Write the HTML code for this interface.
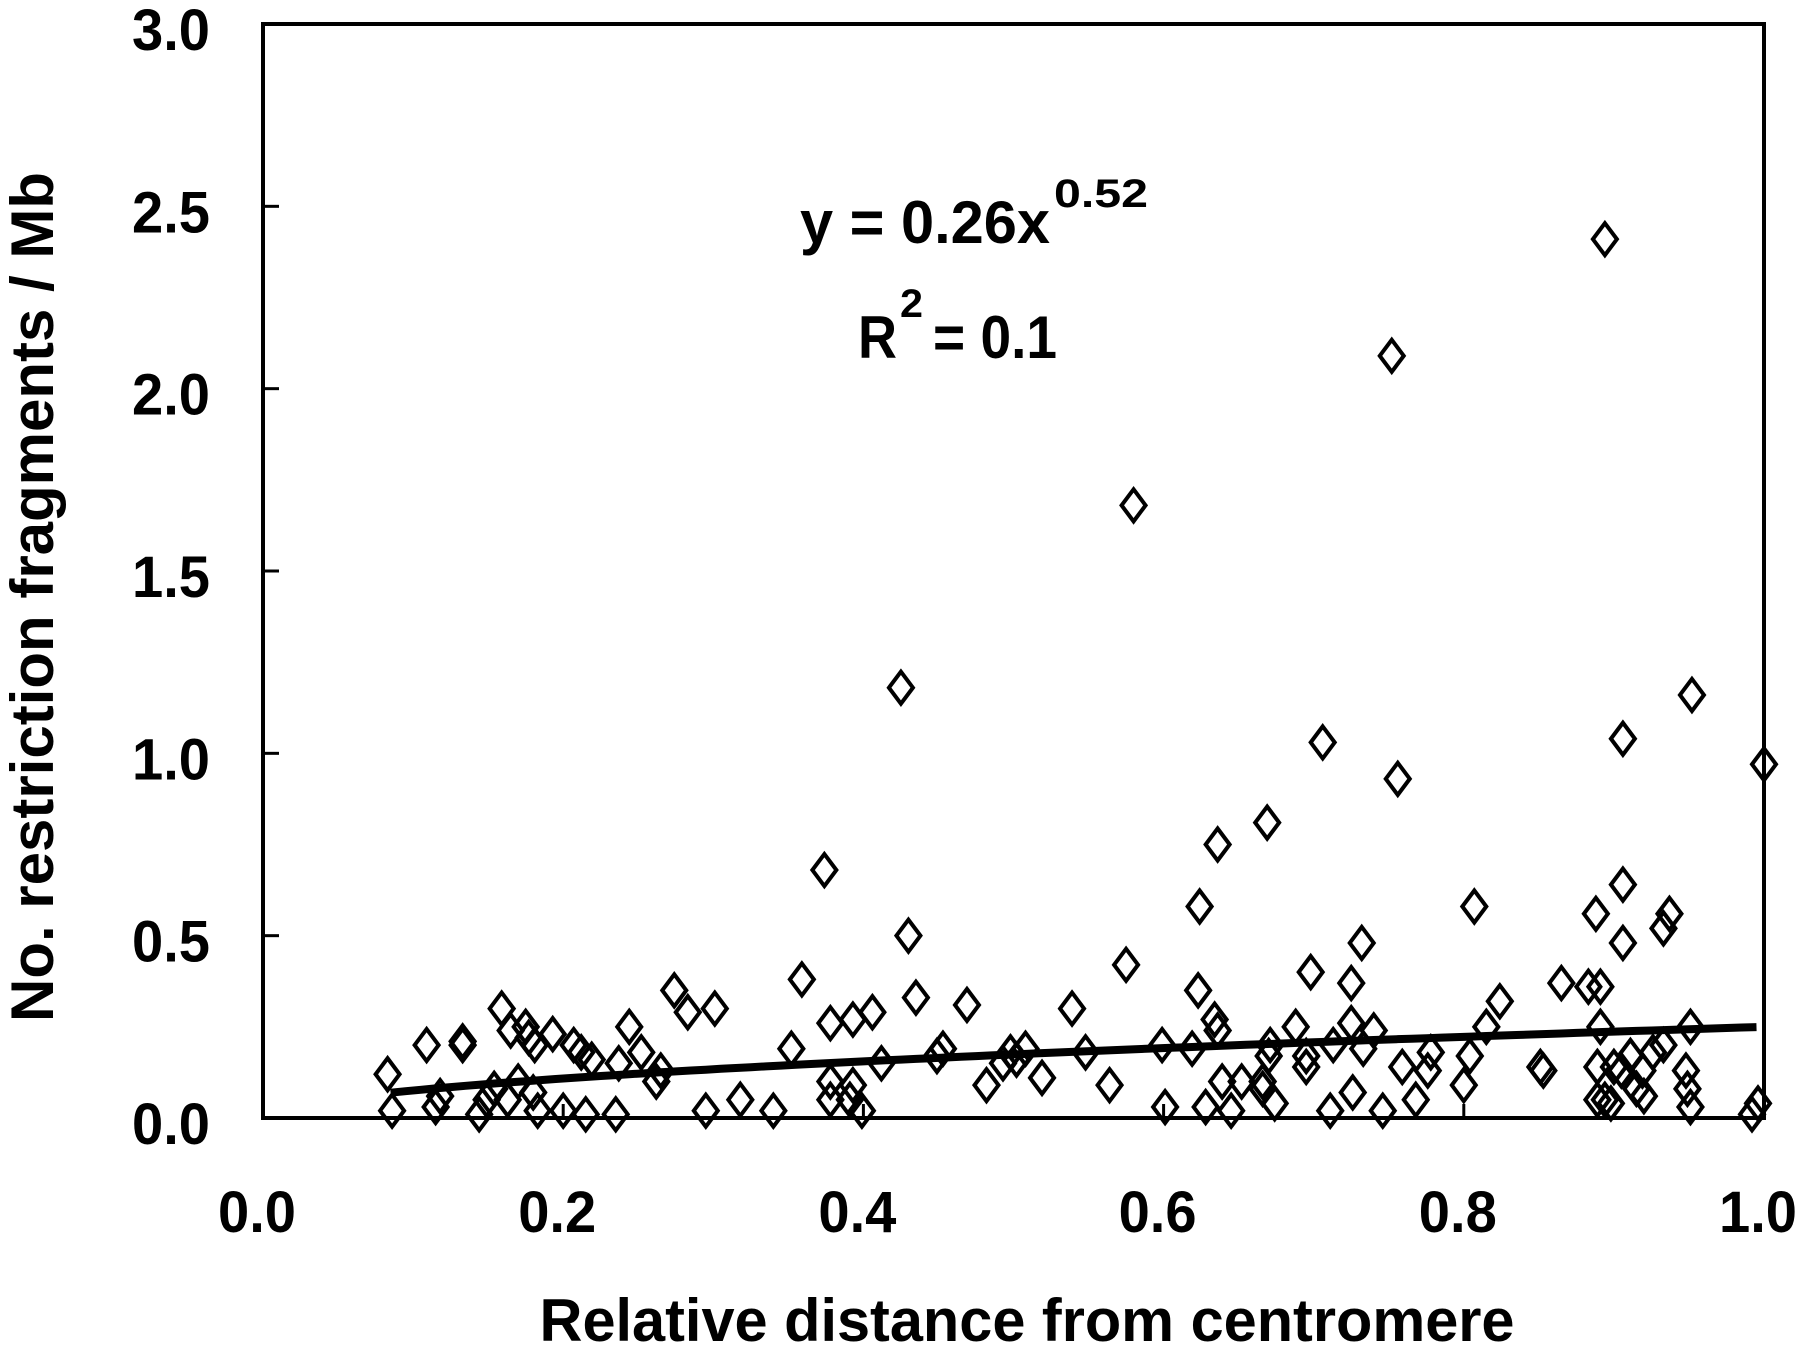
<!DOCTYPE html>
<html><head><meta charset="utf-8"><style>
html,body{margin:0;padding:0;background:#fff}
svg{display:block}
text{font-family:"Liberation Sans",Arial,sans-serif;font-weight:bold;fill:#000}
</style></head><body>
<svg id="chart" width="1800" height="1348" viewBox="0 0 1800 1348" xmlns="http://www.w3.org/2000/svg">
<rect x="263" y="24" width="1501" height="1094" fill="none" stroke="#000" stroke-width="4"/>
<g id="marks"></g>
<g id="ticks"></g>
<text transform="translate(53,597) rotate(-90)" text-anchor="middle" font-size="60" textLength="850" lengthAdjust="spacingAndGlyphs">No. restriction fragments / Mb</text>
<text x="1027" y="1341" text-anchor="middle" font-size="60" textLength="975" lengthAdjust="spacingAndGlyphs">Relative distance from centromere</text>
<text x="800" y="243" font-size="60" textLength="250" lengthAdjust="spacingAndGlyphs">y = 0.26x</text>
<text x="1054" y="207" font-size="40" textLength="94" lengthAdjust="spacingAndGlyphs">0.52</text>
<text x="858" y="358" font-size="60" textLength="39" lengthAdjust="spacingAndGlyphs">R</text>
<text x="900" y="317" font-size="40" textLength="23" lengthAdjust="spacingAndGlyphs">2</text>
<text x="933" y="358" font-size="60" textLength="124" lengthAdjust="spacingAndGlyphs">= 0.1</text>
</svg>
<script>
const xs=[0.894,0.752,0.580,0.425,0.952,0.906,0.706,1.0,0.756,0.669,0.636,0.374,0.906,0.624,0.807,0.888,0.937,0.933,0.43,0.906,0.732,0.575,0.698,0.725,0.359,0.865,0.883,0.891,0.623,0.274,0.283,0.301,0.159,0.435,0.469,0.824,0.539,0.406,0.393,0.378,0.688,0.815,0.244,0.634,0.636,0.725,0.740,0.891,0.951,0.165,0.175,0.177,0.181,0.193,0.109,0.133,0.133,0.207,0.212,0.219,0.237,0.252,0.265,0.262,0.352,0.412,0.453,0.449,0.498,0.508,0.502,0.493,0.548,0.599,0.619,0.671,0.670,0.695,0.695,0.713,0.733,0.759,0.778,0.776,0.804,0.851,0.853,0.889,0.900,0.905,0.911,0.926,0.933,0.948,0.949,0.919,0.915,0.920,0.083,0.086,0.115,0.118,0.144,0.149,0.154,0.163,0.170,0.180,0.183,0.200,0.215,0.235,0.295,0.318,0.340,0.378,0.378,0.393,0.391,0.399,0.482,0.519,0.564,0.601,0.628,0.639,0.645,0.652,0.666,0.666,0.674,0.711,0.726,0.746,0.768,0.800,0.889,0.894,0.898,0.951,0.992,0.996];
const ys=[2.41,2.09,1.68,1.18,1.16,1.04,1.03,0.97,0.93,0.81,0.75,0.68,0.64,0.58,0.58,0.56,0.56,0.52,0.50,0.48,0.48,0.42,0.40,0.37,0.38,0.37,0.36,0.36,0.35,0.35,0.29,0.30,0.30,0.33,0.31,0.32,0.30,0.29,0.27,0.26,0.25,0.25,0.25,0.27,0.24,0.26,0.24,0.25,0.25,0.24,0.25,0.22,0.20,0.23,0.20,0.21,0.20,0.20,0.18,0.16,0.15,0.18,0.13,0.10,0.19,0.15,0.19,0.17,0.18,0.19,0.16,0.15,0.18,0.20,0.19,0.20,0.17,0.17,0.14,0.20,0.19,0.14,0.18,0.13,0.17,0.14,0.13,0.14,0.14,0.13,0.17,0.18,0.20,0.13,0.08,0.13,0.08,0.06,0.12,0.02,0.03,0.06,0.01,0.05,0.08,0.05,0.10,0.07,0.02,0.02,0.01,0.01,0.02,0.05,0.02,0.10,0.05,0.09,0.05,0.02,0.09,0.11,0.09,0.03,0.03,0.10,0.02,0.10,0.08,0.10,0.04,0.02,0.07,0.02,0.05,0.09,0.05,0.05,0.04,0.03,0.01,0.04];
const xTicks=["0.0","0.2","0.4","0.6","0.8","1.0"];
const yTicks=["0.0","0.5","1.0","1.5","2.0","2.5","3.0"];
const fitA=[0.25];
const fitB=[0.52];
const NS="http://www.w3.org/2000/svg";
const X=v=>263+v*1501;
const Y=v=>1118-v*(1094/3);
const marks=document.getElementById('marks');
for(let i=0;i<xs.length;i++){
  const p=document.createElementNS(NS,'path');
  const cx=X(xs[i]),cy=Y(ys[i]);
  p.setAttribute('d',`M${cx},${cy-16}L${cx+12},${cy}L${cx},${cy+16}L${cx-12},${cy}Z`);
  p.setAttribute('fill','none');p.setAttribute('stroke','#000');p.setAttribute('stroke-width','4');
  
  
  marks.appendChild(p);
}
let d='';
for(let t=0.085;t<=1.0001;t+=0.01){d+=(d?'L':'M')+X(t).toFixed(1)+','+Y(fitA[0]*Math.pow(t,fitB[0])).toFixed(1);}
const fl=document.createElementNS(NS,'path');
fl.setAttribute('d',d);fl.setAttribute('fill','none');fl.setAttribute('stroke','#000');fl.setAttribute('stroke-width','8');


marks.appendChild(fl);
const tk=document.getElementById('ticks');
xTicks.forEach((s)=>{
  const v=parseFloat(s);
  const t=document.createElementNS(NS,'text');
  t.setAttribute('x',X(v)-6);t.setAttribute('y',1232);t.setAttribute('text-anchor','middle');
  t.setAttribute('font-size','58');t.setAttribute('textLength','78');t.setAttribute('lengthAdjust','spacingAndGlyphs');
  t.textContent=s;
  
  
  tk.appendChild(t);
  const l=document.createElementNS(NS,'line');
  l.setAttribute('x1',X(v));l.setAttribute('x2',X(v));l.setAttribute('y1',1118);l.setAttribute('y2',1104);
  l.setAttribute('stroke','#000');l.setAttribute('stroke-width','3');
  
  
  tk.appendChild(l);
});
yTicks.forEach((s)=>{
  const v=parseFloat(s);
  const t=document.createElementNS(NS,'text');
  t.setAttribute('x',210);t.setAttribute('y',Y(v)+26);t.setAttribute('text-anchor','end');
  t.setAttribute('font-size','58');t.setAttribute('textLength','78');t.setAttribute('lengthAdjust','spacingAndGlyphs');
  t.textContent=s;
  
  
  tk.appendChild(t);
  const l=document.createElementNS(NS,'line');
  l.setAttribute('x1',263);l.setAttribute('x2',279);l.setAttribute('y1',Y(v));l.setAttribute('y2',Y(v));
  l.setAttribute('stroke','#000');l.setAttribute('stroke-width','3');
  
  
  tk.appendChild(l);
});
</script>
</body></html>
